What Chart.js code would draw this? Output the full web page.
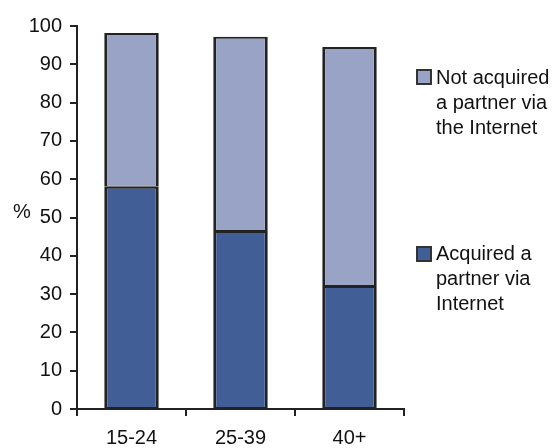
<!DOCTYPE html>
<html>
<head>
<meta charset="utf-8">
<script src="https://cdn.jsdelivr.net/npm/chart.js@4"></script>
<style>
  body { margin: 0; background: #fff; font-family: Arial, "Liberation Sans", sans-serif; }
  #wrap { position: relative; width: 557px; height: 448px; }
  .lbl { position: absolute; font-size: 20px; color: #111; line-height: 25px; }
  .legend-item { position: absolute; left: 416px; }
  .legend-item .sw { position: absolute; left: 0; width: 12px; height: 12px; border: 2px solid #333; }
  .legend-item .tx { position: absolute; left: 20px; top: 0; font-size: 20px; line-height: 25px; color: #111; white-space: nowrap; }
</style>
</head>
<body>
<div id="wrap">
  <canvas id="chart" width="557" height="448"></canvas>
  <div class="lbl" style="left:13px; top:199px;">%</div>
  <div class="legend-item" style="top:65px;">
    <div class="sw" style="top:4px; background:#99a3c6;"></div>
    <div class="tx">Not acquired<br>a partner via<br>the Internet</div>
  </div>
  <div class="legend-item" style="top:241px;">
    <div class="sw" style="top:5px; background:#415e97;"></div>
    <div class="tx">Acquired a<br>partner via<br>Internet</div>
  </div>
</div>
<script>
const categories = ['15-24', '25-39', '40+'];
const acquired = [58.0, 46.5, 32.1];
const notAcquired = [40.2, 50.7, 62.4];
const yTicks = [0, 10, 20, 30, 40, 50, 60, 70, 80, 90, 100];

const axisColor = '#222';
const tickFont = { family: 'Arial, "Liberation Sans", sans-serif', size: 20 };
// thin bottom edge so the joint between stacked pieces looks like one line
const barBorder = { top: 2, bottom: 1, left: 3, right: 3 };

const ctx = document.getElementById('chart').getContext('2d');
const chart = new Chart(ctx, {
  type: 'bar',
  data: {
    labels: categories,
    datasets: [{
      label: 'Acquired a partner via Internet',
      data: acquired,
      backgroundColor: '#415e97',
      borderColor: '#222',
      borderWidth: barBorder,
      borderSkipped: false
    }, {
      label: 'Not acquired a partner via the Internet',
      data: notAcquired,
      backgroundColor: '#99a3c6',
      borderColor: '#222',
      borderWidth: barBorder,
      borderSkipped: false
    }]
  },
  options: {
    responsive: false,
    animation: false,
    layout: { padding: { top: 26, right: 153, left: 0, bottom: 0 } },
    plugins: { legend: { display: false }, tooltip: { enabled: false } },
    datasets: { bar: { categoryPercentage: 1, barPercentage: 0.5 } },
    scales: {
      x: {
        stacked: true,
        grid: { offset: true, drawOnChartArea: false, color: axisColor, tickLength: 7, lineWidth: 2 },
        border: { color: axisColor, width: 2 },
        ticks: { color: '#111', font: tickFont, padding: 10, maxRotation: 0 },
        afterFit: s => { s.height = 39; }
      },
      y: {
        stacked: true,
        min: 0,
        max: 100,
        afterBuildTicks: s => { s.ticks = yTicks.map(v => ({ value: v })); },
        grid: { drawOnChartArea: false, color: axisColor, tickLength: 7, lineWidth: 2 },
        border: { color: axisColor, width: 2 },
        ticks: { color: '#111', font: tickFont, padding: 8 },
        afterFit: s => { s.width = 77; }
      }
    }
  }
});
</script>
</body>
</html>
